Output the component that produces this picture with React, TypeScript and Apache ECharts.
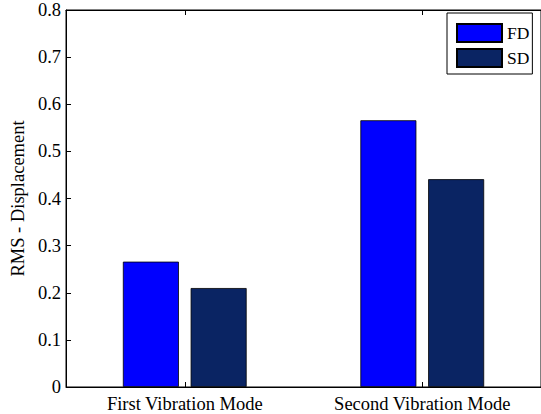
import React, { useEffect, useRef } from "react";
import * as echarts from "echarts";

const categories = ["First Vibration Mode", "Second Vibration Mode"];
const fdValues = [0.266, 0.566];
const sdValues = [0.21, 0.441];
const seriesNames = ["FD", "SD"];
const yTicks = { min: 0, max: 0.8, interval: 0.1 };

const FONT = "'Liberation Serif', 'Times New Roman', serif";
const FS = 18.5;

export default function App() {
  const ref = useRef<HTMLDivElement>(null);
  useEffect(() => {
    const chart = echarts.init(ref.current!, null, { renderer: "svg" });
    chart.setOption({
      animation: false,
      backgroundColor: "#fff",
      textStyle: { fontFamily: FONT },
      grid: {
        left: 65,
        right: -5,
        top: 10,
        bottom: 27,
        show: true,
        borderColor: "#000",
        borderWidth: 1,
        backgroundColor: "transparent",
      },
      legend: {
        data: seriesNames,
        orient: "vertical",
        left: 447,
        top: 13,
        itemWidth: 45,
        itemHeight: 18,
        itemGap: 5,
        padding: [10, 3, 6, 9],
        borderColor: "#000",
        borderWidth: 1,
        backgroundColor: "#fff",
        selectedMode: false,
        icon: "rect",
        textStyle: { fontFamily: FONT, fontSize: 17.5, color: "#000" },
      },
      xAxis: [
        {
          type: "category",
          data: categories,
          position: "bottom",
          axisLine: { show: true, lineStyle: { color: "#000", width: 1 } },
          axisTick: { show: true, inside: true, length: 5, alignWithLabel: true, lineStyle: { color: "#000" } },
          axisLabel: { fontFamily: FONT, fontSize: FS, color: "#000", margin: 7 },
          splitLine: { show: false },
        },
        {
          type: "category",
          data: categories,
          position: "top",
          axisLine: { show: true, lineStyle: { color: "#000", width: 1 } },
          axisTick: { show: true, inside: true, length: 5, alignWithLabel: true, lineStyle: { color: "#000" } },
          axisLabel: { show: false },
          splitLine: { show: false },
        },
      ],
      yAxis: {
        type: "value",
        min: yTicks.min,
        max: yTicks.max,
        interval: yTicks.interval,
        name: "RMS - Displacement",
        nameLocation: "middle",
        nameGap: 37,
        nameTextStyle: { fontFamily: FONT, fontSize: FS, color: "#000" },
        axisLine: { show: true, lineStyle: { color: "#000", width: 1 } },
        axisTick: { show: true, inside: true, length: 5, lineStyle: { color: "#000" } },
        axisLabel: {
          fontFamily: FONT,
          fontSize: FS,
          color: "#000",
          margin: 5,
          formatter: (v: number) => (v === 0 ? "0" : v.toFixed(1)),
        },
        splitLine: { show: false },
      },
      series: [
        {
          name: seriesNames[0],
          type: "bar",
          data: fdValues,
          barWidth: 56,
          barGap: "21%",
          itemStyle: { color: "#0000FF", borderColor: "#000", borderWidth: 0.8 },
        },
        {
          name: seriesNames[1],
          type: "bar",
          data: sdValues,
          barWidth: 56,
          barGap: "21%",
          itemStyle: { color: "#0A2463", borderColor: "#000", borderWidth: 0.8 },
        },
      ],
    });
    return () => chart.dispose();
  }, []);
  return <div ref={ref} style={{ width: 541, height: 414, position: "absolute", left: 0, top: 0 }} />;
}
